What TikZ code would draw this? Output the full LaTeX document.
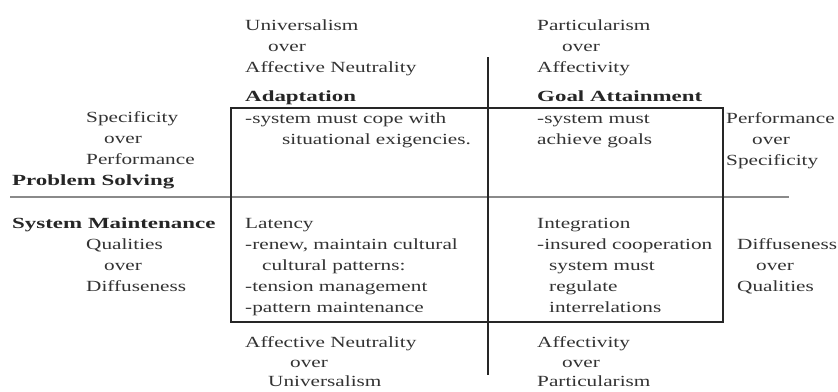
\documentclass[tikz,border=0pt]{standalone}
\usepackage{fontspec}
\setmainfont{Liberation Serif}[FakeStretch=1.37,BoldFeatures={FakeStretch=1.48}]
\definecolor{txt}{HTML}{333333}
\definecolor{rule}{HTML}{8A8A8A}
\begin{document}
\begin{tikzpicture}[x=1pt,y=-1pt,
  lbl/.style={anchor=base west,inner sep=0pt,text=txt,font=\fontsize{15.5}{18}\selectfont},
  hd/.style={lbl,font=\fontsize{15.5}{18}\selectfont\bfseries,text=black!85}]
\useasboundingbox[fill=white] (0,0) rectangle (838,391);
% lines
\coordinate (boxNW) at (231,108);
\coordinate (boxSE) at (723,322);
\coordinate (vTop) at (488,57);
\coordinate (vBot) at (488,375);
\coordinate (hL) at (10,197);
\coordinate (hR) at (789,197);
\draw[rule,line width=1.8pt] (hL) -- (hR);
\draw[black!85,line width=2pt] (boxNW) rectangle (boxSE);
\draw[black!85,line width=2pt] (vTop) -- (vBot);
% top left
\node[lbl] (tl1) at (245,30) {Universalism};
\node[lbl] (tl2) at (268,51) {over};
\node[lbl] (tl3) at (245,72) {Affective Neutrality};
\node[hd] (adap) at (245,101) {Adaptation};
\node[lbl] (ad1) at (245,123) {-system must cope with};
\node[lbl] (ad2) at (282,144) {situational exigencies.};
% top right
\node[lbl] (tr1) at (537,30) {Particularism};
\node[lbl] (tr2) at (562,51) {over};
\node[lbl] (tr3) at (537,72) {Affectivity};
\node[hd] (goal) at (537,101) {Goal Attainment};
\node[lbl] (ga1) at (537,123) {-system must};
\node[lbl] (ga2) at (537,144) {achieve goals};
% far right top
\node[lbl] (rr1) at (726,123) {Performance};
\node[lbl] (rr2) at (752,144) {over};
\node[lbl] (rr3) at (726,165) {Specificity};
% far left top
\node[lbl] (ll1) at (86,122) {Specificity};
\node[lbl] (ll2) at (104,143) {over};
\node[lbl] (ll3) at (86,164) {Performance};
\node[hd] (ps) at (12,185) {Problem Solving};
% bottom left
\node[hd] (sm) at (12,228) {System Maintenance};
\node[lbl] (bl1) at (86,249) {Qualities};
\node[lbl] (bl2) at (104,270) {over};
\node[lbl] (bl3) at (86,291) {Diffuseness};
% latency
\node[lbl] (lat) at (245,228) {Latency};
\node[lbl] (lat1) at (245,249) {-renew, maintain cultural};
\node[lbl] (lat2) at (262,270) {cultural patterns:};
\node[lbl] (lat3) at (245,291) {-tension management};
\node[lbl] (lat4) at (245,312) {-pattern maintenance};
% integration
\node[lbl] (int) at (537,228) {Integration};
\node[lbl] (int1) at (537,249) {-insured cooperation};
\node[lbl] (int2) at (549,270) {system must};
\node[lbl] (int3) at (549,291) {regulate};
\node[lbl] (int4) at (549,312) {interrelations};
% far right bottom
\node[lbl] (br1) at (737,249) {Diffuseness};
\node[lbl] (br2) at (756,270) {over};
\node[lbl] (br3) at (737,291) {Qualities};
% bottom
\node[lbl] (bb1) at (245,347) {Affective Neutrality};
\node[lbl] (bb2) at (290,367) {over};
\node[lbl] (bb3) at (268,386) {Universalism};
\node[lbl] (bc1) at (537,347) {Affectivity};
\node[lbl] (bc2) at (562,367) {over};
\node[lbl] (bc3) at (537,386) {Particularism};
\end{tikzpicture}
\end{document}
